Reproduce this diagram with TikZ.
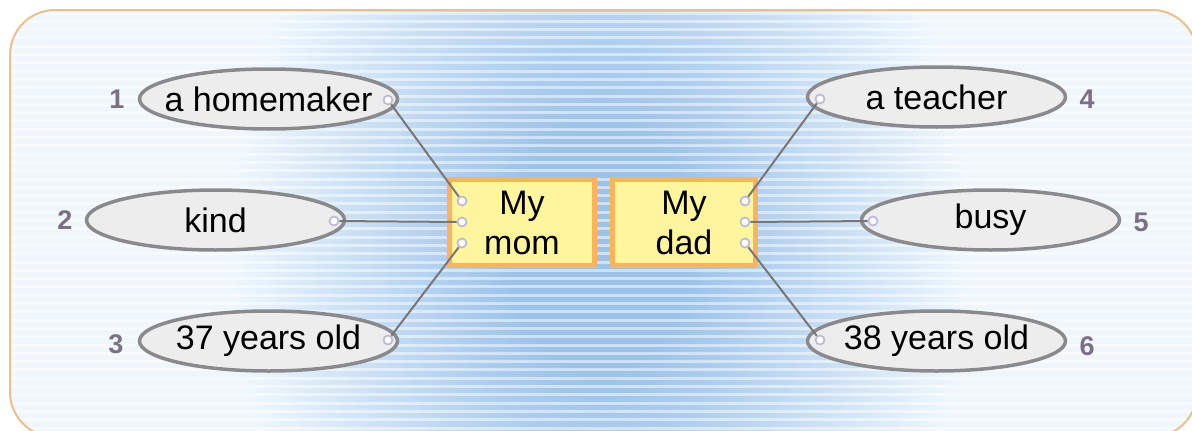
\documentclass[tikz,border=0pt]{standalone}
\usepackage{fontspec}
\setmainfont{Liberation Sans}
\usetikzlibrary{shapes.geometric}
\definecolor{bgc}{HTML}{EFF7FD}
\definecolor{bord}{HTML}{EAC08E}
\definecolor{glow}{HTML}{9CC2EA}
\definecolor{ellfill}{HTML}{EDEDED}
\definecolor{elldraw}{HTML}{8A8A8E}
\definecolor{boxfill}{HTML}{FFF59D}
\definecolor{boxdraw}{HTML}{FBB45C}
\definecolor{numc}{HTML}{7B7085}
\definecolor{linec}{HTML}{777777}
\definecolor{dotc}{HTML}{BDBDDB}
\pgfdeclareradialshading{glowshade}{\pgfpoint{0bp}{0bp}}{color(0bp)=(glow); color(6bp)=(glow); color(25bp)=(bgc); color(50bp)=(bgc)}
\begin{document}
\begin{tikzpicture}[x=1pt,y=-1pt,
  oval/.style={ellipse, draw=elldraw, fill=ellfill, line width=3.5pt, minimum width=258pt, minimum height=60pt, inner sep=0pt, font=\fontsize{34}{40}\selectfont},
  wordbox/.style={rectangle, draw=boxdraw, fill=boxfill, line width=5pt, minimum height=86pt, inner sep=0pt, align=center, font=\fontsize{34}{40}\selectfont},
  num/.style={text=numc, font=\fontsize{27}{27}\selectfont\bfseries, inner sep=0pt},
  dot/.style={circle, draw=dotc, fill=white, line width=1.8pt, minimum size=9pt, inner sep=0pt},
  conn/.style={draw=linec, line width=2pt}]
\useasboundingbox (0,0) rectangle (1192,431);
% background
\begin{scope}
\clip (0,0) rectangle (1192,431);
\fill[bgc, rounded corners=45pt] (10,10) rectangle (1197,437);
\begin{scope}
\clip[rounded corners=45pt] (10,10) rectangle (1197,437);
\fill[shading=glowshade] (230,-240) rectangle (970,740);
\foreach \i in {0,...,52}{
  \draw[white, opacity=0.5, line width=3pt] (0,{13+\i*8.3}) -- (1192,{13+\i*8.3});
}
\end{scope}
\draw[bord, line width=2pt, rounded corners=45pt] (10,10) rectangle (1197,437);
\end{scope}
% boxes
\node[wordbox, minimum width=145pt] (mom) at (522,222.5) {My\\mom};
\node[wordbox, minimum width=143pt] (dad) at (684,222.5) {My\\dad};
% ellipses
\node[oval] (e1) at (268.5,99) {\makebox[0pt]{a homemaker}};
\node[oval] (e2) at (215.5,220) {\makebox[0pt]{kind}};
\node[oval] (e3) at (268.5,341) {\makebox[0pt]{37 years old}};
\node[oval] (e4) at (936.5,97) {\makebox[0pt]{a teacher}};
\node[oval] (e5) at (990.5,220) {\makebox[0pt]{busy}};
\node[oval] (e6) at (936.5,341) {\makebox[0pt]{38 years old}};
% numbers
\node[num] (n1) at (117,99) {1};
\node[num] (n2) at (65,220) {2};
\node[num] (n3) at (116,344) {3};
\node[num] (n4) at (1087,99) {4};
\node[num] (n5) at (1141,222) {5};
\node[num] (n6) at (1087,346) {6};
% dots
\node[dot] (a1) at (388,100) {};
\node[dot] (a2) at (334,221) {};
\node[dot] (a3) at (388,340) {};
\node[dot] (a4) at (820,99) {};
\node[dot] (a5) at (873,221) {};
\node[dot] (a6) at (820,340) {};
\node[dot] (m1) at (462,201) {};
\node[dot] (m2) at (462,222) {};
\node[dot] (m3) at (462,243) {};
\node[dot] (p1) at (745,201) {};
\node[dot] (p2) at (745,222) {};
\node[dot] (p3) at (745,243) {};
% connectors
\draw[conn] (a1) -- (m1);
\draw[conn] (a2) -- (m2);
\draw[conn] (a3) -- (m3);
\draw[conn] (a4) -- (p1);
\draw[conn] (a5) -- (p2);
\draw[conn] (a6) -- (p3);
\end{tikzpicture}
\end{document}
